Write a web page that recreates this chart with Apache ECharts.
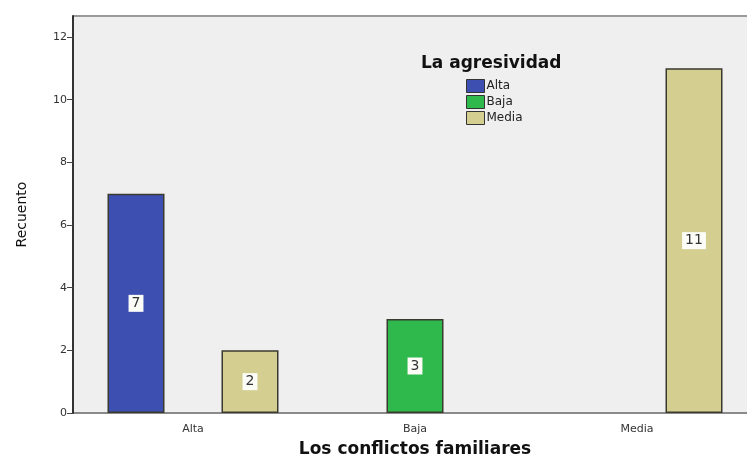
<!DOCTYPE html>
<html>
<head>
<meta charset="utf-8">
<script src="https://cdn.jsdelivr.net/npm/echarts@6/dist/echarts.min.js"></script>
<style>
  html, body { margin: 0; padding: 0; background: #fff; }
  #chart { width: 747px; height: 458px; }
</style>
</head>
<body>
<div id="chart"></div>
<script>
// categorias del eje x
const categories = ['Alta', 'Baja', 'Media']
// series (La agresividad) - null = sin barra
const seriesNames = ['Alta', 'Baja', 'Media']
const altaValues = [7, null, null]
const bajaValues = [null, 3, null]
const mediaValues = [2, null, 11]
const seriesColors = ['#3d50b2', '#2fb84b', '#d4cf91']

const chart = echarts.init(document.getElementById('chart'))

const dataList = [altaValues, bajaValues, mediaValues]
const series = []
for (let k = 0; k < seriesNames.length; k++) {
  series.push({
    name: seriesNames[k],
    type: 'bar',
    barWidth: 57,
    barGap: '0%',
    data: dataList[k],
    itemStyle: {
      color: seriesColors[k],
      borderColor: '#3a3a2e',
      borderWidth: 1.5
    },
    label: {
      show: true,
      position: 'inside',
      color: '#333',
      fontSize: 14,
      fontFamily: 'DejaVu Sans',
      backgroundColor: '#fdfdf8',
      padding: [2, 3, 1, 3]
    }
  })
}

const option = {
  animation: false,
  textStyle: { fontFamily: 'DejaVu Sans' },
  graphic: [
    { // fondo del area
      type: 'rect',
      z: -10,
      shape: { x: 73, y: 16, width: 680, height: 397 },
      style: { fill: '#efefef' }
    },
    { // borde superior
      type: 'line',
      z: -5,
      shape: { x1: 73, y1: 16, x2: 747, y2: 16 },
      style: { stroke: '#9a9a9a', lineWidth: 2 }
    },
    { // tramo del eje x bajo el eje y
      type: 'line',
      z: -5,
      shape: { x1: 73, y1: 413, x2: 83, y2: 413 },
      style: { stroke: '#8a8a8a', lineWidth: 2 }
    }
  ],
  legend: {
    data: seriesNames,
    orient: 'vertical',
    left: 461,
    top: 74,
    icon: 'rect',
    itemWidth: 18,
    itemHeight: 13,
    itemGap: 2,
    itemStyle: { borderColor: '#333', borderWidth: 1 },
    textStyle: { fontSize: 12, color: '#222', padding: [0, 0, 0, -3] }
  },
  title: {
    text: 'La agresividad',
    left: 416,
    top: 50,
    textStyle: { fontSize: 17, fontWeight: 'bold', color: '#111', fontFamily: 'DejaVu Sans' }
  },
  grid: {
    left: 82,
    right: -1,
    top: 16,
    bottom: 45,
    outerBoundsMode: 'none'
  },
  xAxis: {
    type: 'category',
    data: categories,
    name: 'Los conflictos familiares',
    nameLocation: 'middle',
    nameGap: 28,
    nameTextStyle: { fontSize: 17, fontWeight: 'bold', color: '#111' },
    axisLine: { lineStyle: { color: '#8a8a8a', width: 2 } },
    axisTick: { alignWithLabel: true, length: 5, lineStyle: { color: '#444' } },
    axisLabel: { fontSize: 11, color: '#333', margin: 11 }
  },
  yAxis: {
    type: 'value',
    min: 0,
    max: 12.67,
    interval: 2,
    offset: 9,
    name: 'Recuento',
    nameLocation: 'middle',
    nameGap: 44,
    nameTextStyle: { fontSize: 14, color: '#111' },
    splitLine: { show: false },
    axisLine: { show: true, lineStyle: { color: '#333', width: 2 } },
    axisTick: { show: true, length: 6, lineStyle: { color: '#444' } },
    axisLabel: { fontSize: 11, color: '#333', showMaxLabel: false, margin: 6 }
  },
  series: series
}

chart.setOption(option)
</script>
</body>
</html>
